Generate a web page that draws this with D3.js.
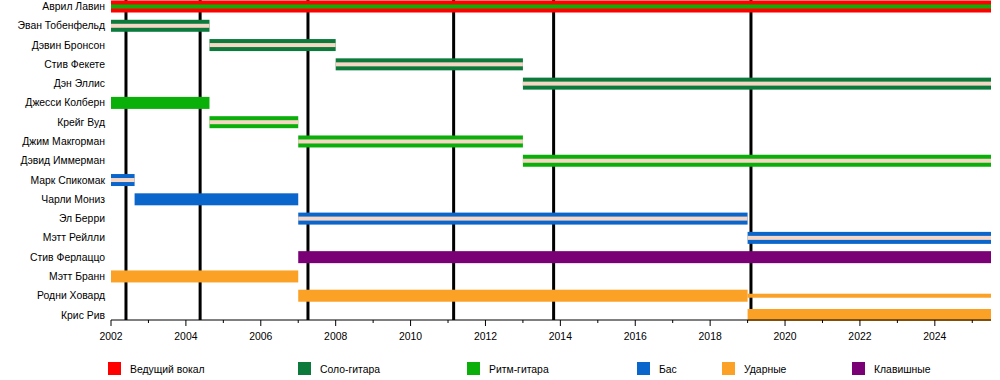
<!DOCTYPE html>
<html><head><meta charset="utf-8">
<script src="https://cdn.jsdelivr.net/npm/d3@7"></script>
<style>
body{margin:0;background:#fff;}
text{font-family:"Liberation Sans",Arial,sans-serif;fill:#000;}
</style></head>
<body>
<svg id="chart" width="1000" height="380"></svg>
<script>
// ---- data ----
const members = ["Аврил Лавин","Эван Тобенфельд","Дэвин Бронсон","Стив Фекете","Дэн Эллис",
  "Джесси Колберн","Крейг Вуд","Джим Макгорман","Дэвид Иммерман","Марк Спикомак",
  "Чарли Мониз","Эл Берри","Мэтт Рейлли","Стив Ферлаццо","Мэтт Бранн","Родни Ховард","Крис Рив"];
const roles = ["Ведущий вокал","Соло-гитара","Ритм-гитара","Бас","Ударные","Клавишные"];
const startYear = 2002, endYear = 2025.5;
// [member, role, from, till]
const mainBars = [
  ["Аврил Лавин","Ведущий вокал",2002,2025.5],
  ["Эван Тобенфельд","Соло-гитара",2002,2004.63],
  ["Дэвин Бронсон","Соло-гитара",2004.63,2008.0],
  ["Стив Фекете","Соло-гитара",2008.0,2013.0],
  ["Дэн Эллис","Соло-гитара",2013.0,2025.5],
  ["Джесси Колберн","Ритм-гитара",2002,2004.63],
  ["Крейг Вуд","Ритм-гитара",2004.63,2007.0],
  ["Джим Макгорман","Ритм-гитара",2007.0,2013.0],
  ["Дэвид Иммерман","Ритм-гитара",2013.0,2025.5],
  ["Марк Спикомак","Бас",2002,2002.63],
  ["Чарли Мониз","Бас",2002.63,2007.0],
  ["Эл Берри","Бас",2007.0,2019.0],
  ["Мэтт Рейлли","Бас",2019.0,2025.5],
  ["Стив Ферлаццо","Клавишные",2007.0,2025.5],
  ["Мэтт Бранн","Ударные",2002,2007.0],
  ["Родни Ховард","Ударные",2007.0,2019.0],
  ["Крис Рив","Ударные",2019.0,2025.5]
];
// secondary (narrow) bars: [member, role, from, till]
const stripeBars = [
  ["Аврил Лавин","Ритм-гитара",2002,2025.5],
  ["Эван Тобенфельд","Бэк-вокал",2002,2004.63],
  ["Дэвин Бронсон","Бэк-вокал",2004.63,2008.0],
  ["Стив Фекете","Бэк-вокал",2008.0,2013.0],
  ["Дэн Эллис","Бэк-вокал",2013.0,2025.5],
  ["Крейг Вуд","Бэк-вокал",2004.63,2007.0],
  ["Джим Макгорман","Бэк-вокал",2007.0,2013.0],
  ["Дэвид Иммерман","Бэк-вокал",2013.0,2025.5],
  ["Марк Спикомак","Бэк-вокал",2002,2002.63],
  ["Эл Берри","Бэк-вокал",2007.0,2019.0],
  ["Мэтт Рейлли","Бэк-вокал",2019.0,2025.5],
  ["Родни Ховард","Ударные",2019.0,2025.5]
];
const albums = [2002.40,2004.38,2007.26,2011.15,2013.82,2019.09];
const tickYears = d3.range(2002,2025,2);

// ---- styles ----
const colors = {
  "Ведущий вокал":"#ff0000","Соло-гитара":"#0b7a3b","Ритм-гитара":"#0aaf0a",
  "Бас":"#0b66cc","Ударные":"#fba126","Клавишные":"#7a0075","Бэк-вокал":"#f6d7c5"
};
const legendX = [108,298,467,637,722,852];
const fs = 10.4;

const svg = d3.select("#chart");
const x = d3.scaleLinear().domain([startYear,endYear]).range([111,991]);
const y = d3.scalePoint().domain(members).range([6.5,315]);
const barH = 12, stripeH = 4;

// album lines (behind bars)
svg.append("g").selectAll("line").data(albums).join("line")
  .attr("x1",d=>x(d)).attr("x2",d=>x(d)).attr("y1",0).attr("y2",320)
  .attr("stroke","#000").attr("stroke-width",3);

// main bars
svg.append("g").selectAll("rect").data(mainBars).join("rect")
  .attr("x",d=>x(d[2])).attr("width",d=>x(d[3])-x(d[2]))
  .attr("y",d=>y(d[0])-barH/2).attr("height",barH)
  .attr("fill",d=>colors[d[1]]);

// stripes
svg.append("g").selectAll("rect").data(stripeBars).join("rect")
  .attr("x",d=>x(d[2])).attr("width",d=>x(d[3])-x(d[2]))
  .attr("y",d=>y(d[0])-stripeH/2).attr("height",stripeH)
  .attr("fill",d=>colors[d[1]]);

// member labels
svg.append("g").selectAll("text").data(members).join("text")
  .attr("x",105).attr("y",d=>y(d)).attr("text-anchor","end")
  .attr("dominant-baseline","central").attr("font-size",fs).text(d=>d);

// axis
const axisG = svg.append("g").attr("transform","translate(0,320)");
axisG.append("line").attr("x1",x(startYear)).attr("x2",x(endYear)).attr("stroke","#000");
axisG.selectAll("line.minor").data(d3.range(2002,2026)).join("line").attr("class","minor")
  .attr("x1",d=>x(d)).attr("x2",d=>x(d)).attr("y1",0).attr("y2",d=>d%2===0?6:3)
  .attr("stroke","#000");
axisG.selectAll("text").data(tickYears).join("text")
  .attr("x",d=>x(d)).attr("y",20).attr("text-anchor","middle").attr("font-size",fs)
  .text(d=>d);

// legend
const lg = svg.append("g").selectAll("g").data(roles).join("g")
  .attr("transform",(d,i)=>`translate(${legendX[i]},362)`);
lg.append("rect").attr("width",13).attr("height",13).attr("fill",d=>colors[d]);
lg.append("text").attr("x",22).attr("y",7).attr("dominant-baseline","central")
  .attr("font-size",fs).text(d=>d);
</script>
</body></html>
